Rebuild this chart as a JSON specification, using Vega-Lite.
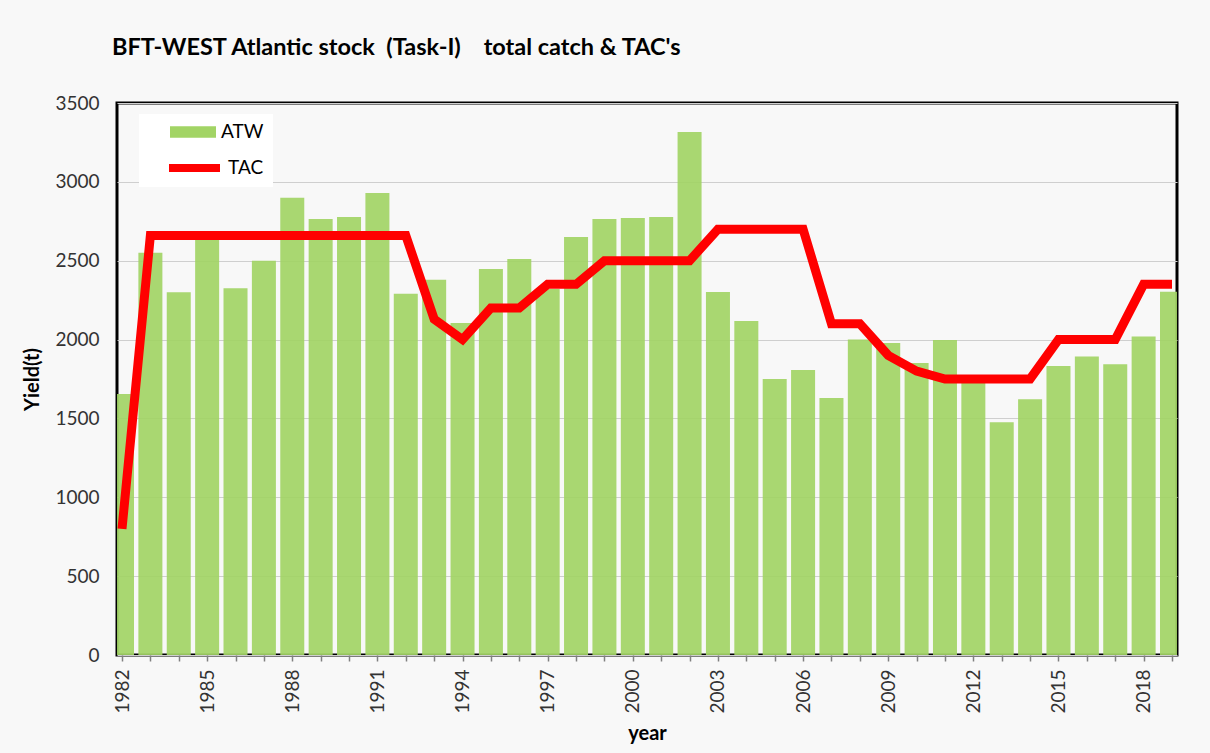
{
  "$schema": "https://vega.github.io/schema/vega-lite/v6.json",
  "width": 1060,
  "height": 552,
  "autosize": "none",
  "padding": {"left": 117, "top": 103, "right": 33, "bottom": 98},
  "background": "#f8f8f8",
  "title": {
    "text": "BFT-WEST Atlantic stock\u00a0\u00a0(Task-I)\u00a0\u00a0\u00a0\u00a0total catch & TAC's",
    "anchor": "start",
    "frame": "group",
    "font": "Lato",
    "fontSize": 23.5,
    "fontWeight": "bold",
    "color": "#000000",
    "offset": 35,
    "dx": -5
  },
  "config": {
    "view": {"stroke": "#000000", "strokeWidth": 3, "fill": "#f8f8f8"},
    "axis": {
      "labelFont": "Lato",
      "labelFontSize": 19,
      "labelColor": "#333333",
      "titleFont": "Lato",
      "titleFontSize": 20,
      "titleFontWeight": "bold",
      "titleColor": "#000000",
      "domain": false
    },
    "legend": {
      "orient": "none",
      "title": null,
      "fillColor": "#ffffff",
      "padding": 9,
      "clipHeight": 18,
      "labelFont": "Lato",
      "labelFontSize": 19,
      "labelColor": "#000000",
      "symbolOpacity": 1
    }
  },
  "data": {
    "values": [
      {"year": 1982, "ATW": 1655, "TAC": 800},
      {"year": 1983, "ATW": 2550, "TAC": 2660},
      {"year": 1984, "ATW": 2300, "TAC": 2660},
      {"year": 1985, "ATW": 2650, "TAC": 2660},
      {"year": 1986, "ATW": 2325, "TAC": 2660},
      {"year": 1987, "ATW": 2500, "TAC": 2660},
      {"year": 1988, "ATW": 2900, "TAC": 2660},
      {"year": 1989, "ATW": 2765, "TAC": 2660},
      {"year": 1990, "ATW": 2777, "TAC": 2660},
      {"year": 1991, "ATW": 2930, "TAC": 2660},
      {"year": 1992, "ATW": 2290, "TAC": 2660},
      {"year": 1993, "ATW": 2380, "TAC": 2130},
      {"year": 1994, "ATW": 2105, "TAC": 2000},
      {"year": 1995, "ATW": 2448, "TAC": 2200},
      {"year": 1996, "ATW": 2511, "TAC": 2200},
      {"year": 1997, "ATW": 2320, "TAC": 2350},
      {"year": 1998, "ATW": 2651, "TAC": 2350},
      {"year": 1999, "ATW": 2765, "TAC": 2500},
      {"year": 2000, "ATW": 2771, "TAC": 2500},
      {"year": 2001, "ATW": 2777, "TAC": 2500},
      {"year": 2002, "ATW": 3316, "TAC": 2500},
      {"year": 2003, "ATW": 2302, "TAC": 2700},
      {"year": 2004, "ATW": 2118, "TAC": 2700},
      {"year": 2005, "ATW": 1750, "TAC": 2700},
      {"year": 2006, "ATW": 1807, "TAC": 2700},
      {"year": 2007, "ATW": 1630, "TAC": 2100},
      {"year": 2008, "ATW": 2000, "TAC": 2100},
      {"year": 2009, "ATW": 1978, "TAC": 1900},
      {"year": 2010, "ATW": 1851, "TAC": 1800},
      {"year": 2011, "ATW": 1997, "TAC": 1750},
      {"year": 2012, "ATW": 1740, "TAC": 1750},
      {"year": 2013, "ATW": 1475, "TAC": 1750},
      {"year": 2014, "ATW": 1621, "TAC": 1750},
      {"year": 2015, "ATW": 1833, "TAC": 2000},
      {"year": 2016, "ATW": 1892, "TAC": 2000},
      {"year": 2017, "ATW": 1843, "TAC": 2000},
      {"year": 2018, "ATW": 2020, "TAC": 2350},
      {"year": 2019, "ATW": 2304, "TAC": 2350}
    ]
  },
  "encoding": {
    "x": {
      "field": "year",
      "type": "quantitative",
      "title": "year",
      "scale": {"domain": [1982, 2019], "nice": false, "zero": false},
      "axis": {
        "values": [1982,1983,1984,1985,1986,1987,1988,1989,1990,1991,1992,1993,1994,1995,1996,1997,1998,1999,2000,2001,2002,2003,2004,2005,2006,2007,2008,2009,2010,2011,2012,2013,2014,2015,2016,2017,2018,2019],
        "format": "d",
        "labelExpr": "(datum.value - 1982) % 3 === 0 ? datum.label : ''",
        "labelAngle": -90,
        "labelPadding": 8,
        "tickSize": 6,
        "tickColor": "#808080",
        "tickWidth": 1.5,
        "grid": false,
        "titlePadding": 10,
        "labelFlush": false,
        "labelOverlap": false
      }
    }
  },
  "layer": [
    {
      "mark": {"type": "bar", "clip": true, "width": 24, "opacity": 0.92},
      "encoding": {
        "y": {
          "field": "ATW",
          "type": "quantitative",
          "title": "Yield(t)",
          "scale": {"domain": [0, 3500], "nice": false},
          "axis": {
            "values": [0, 500, 1000, 1500, 2000, 2500, 3000, 3500],
            "format": "d",
            "ticks": false,
            "labelPadding": 18,
            "grid": true,
            "gridColor": "#cfcfcf",
            "gridWidth": 1.2,
            "titlePadding": 12
          }
        },
        "fill": {
          "datum": "ATW",
          "type": "nominal",
          "scale": {"domain": ["ATW"], "range": ["#a2d465"]},
          "legend": {
            "legendX": 22,
            "legendY": 11,
            "symbolType": "M-1,-0.25H1V0.25H-1Z",
            "symbolSize": 2116,
            "symbolOffset": 21,
            "labelOffset": 4,
            "labelExpr": "datum.label + '\u00a0\u00a0\u00a0\u00a0\u00a0\u00a0'"
          }
        }
      }
    },
    {
      "mark": {"type": "line", "strokeWidth": 9, "strokeJoin": "miter", "clip": true},
      "encoding": {
        "y": {"field": "TAC", "type": "quantitative"},
        "stroke": {
          "datum": "TAC",
          "type": "nominal",
          "scale": {"domain": ["TAC"], "range": ["#ff0000"]},
          "legend": {
            "legendX": 22,
            "legendY": 47,
            "symbolType": "stroke",
            "symbolSize": 2601,
            "symbolStrokeWidth": 8,
            "symbolOffset": 17,
            "labelOffset": 4,
            "labelExpr": "datum.label + '\u00a0\u00a0\u00a0\u00a0\u00a0\u00a0'"
          }
        }
      }
    }
  ]
}
